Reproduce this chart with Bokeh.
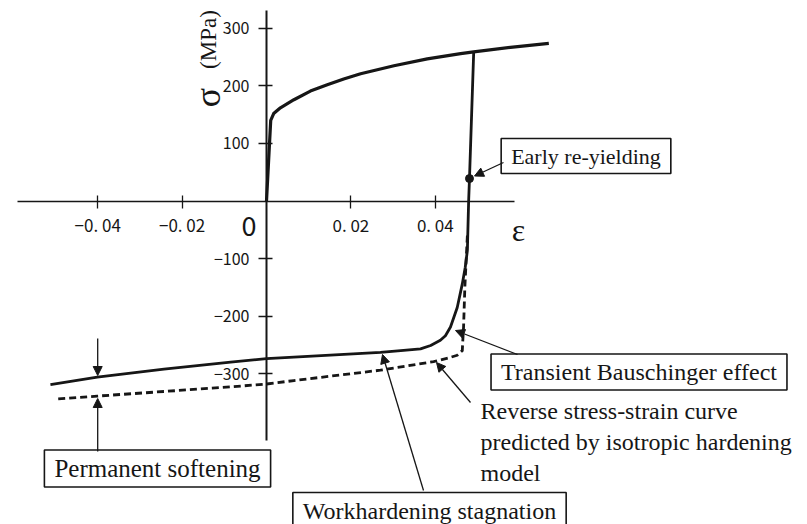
import math
from bokeh.plotting import figure
from bokeh.models import Range1d, FixedTicker, Label, Arrow, NormalHead
from bokeh.embed import file_html
from bokeh.resources import INLINE

# ---------------- data ----------------
forward_strain = [0.0, 0.0010, 0.0017, 0.0033, 0.0065, 0.0104, 0.0144, 0.0183,
                  0.0223, 0.0302, 0.0381, 0.0460, 0.0491, 0.0578, 0.0669]
forward_stress = [0, 140, 152, 162, 176, 191, 202, 212, 221, 235, 247, 256, 259, 267, 274]

reverse_strain = [0.0491, 0.0481, 0.0479, 0.0476, 0.0471, 0.0464, 0.0452, 0.0444,
                  0.0436, 0.0424, 0.0412, 0.0389, 0.0365, 0.0318, 0.0270, 0.0,
                  -0.0085, -0.0243, -0.0401, -0.0512]
reverse_stress = [259, 39, 0, -86, -115, -144, -185, -202, -219, -234, -242, -251,
                  -257, -260, -263, -274, -280, -292, -306, -319]

isotropic_strain = [0.0476, 0.0470, 0.0467, 0.0465, 0.0464, 0.0452, 0.0430, 0.0396,
                    0.0270, 0.0065, 0.0, -0.0085, -0.0243, -0.0401, -0.0496]
isotropic_stress = [-60, -150, -219, -245, -260, -268, -273, -279, -294, -312, -318,
                    -323, -331, -339, -344]

reyield_strain = [0.0481]
reyield_stress = [39]

softening_strain = -0.04

x_ticks = [-0.04, -0.02, 0.02, 0.04]
x_tick_labels = ["\u22120. 04", "\u22120. 02", "0. 02", "0. 04"]
y_ticks = [-300, -200, -100, 100, 200, 300]
y_tick_labels = ["\u2212300", "\u2212200", "\u2212100", "100", "200", "300"]

# ---------------- layout ----------------
W, H = 807, 524
X0, XS = 266.0, 4220.0     # pixel of strain 0, pixels per unit strain
Y0, YS = 200.5, 0.5755     # pixel of stress 0, pixels per MPa


def px_x(ix):
    return (ix - X0) / XS


def px_y(iy):
    return (Y0 - iy) / YS


INK = "#161616"

p = figure(width=W, height=H,
           x_range=Range1d(px_x(0), px_x(W)),
           y_range=Range1d(px_y(H), px_y(0)),
           output_backend="svg", toolbar_location=None,
           min_border=0, outline_line_color=None,
           background_fill_color="white", border_fill_color="white")
p.grid.visible = False

xa = p.xaxis[0]
xa.fixed_location = 0
xa.ticker = FixedTicker(ticks=x_ticks)
xa.major_label_overrides = dict(zip(x_ticks, x_tick_labels))
xa.bounds = (px_x(17), px_x(514))
xa.minor_tick_line_color = None
xa.major_tick_in = 6
xa.major_tick_out = 7
xa.axis_line_width = 1.3
xa.axis_line_color = INK
xa.major_tick_line_width = 1.3
xa.major_tick_line_color = INK
xa.major_label_text_font = "Noto Sans CJK JP"
xa.major_label_text_font_size = "17px"
xa.major_label_text_color = INK
xa.major_label_standoff = 4

ya = p.yaxis[0]
ya.fixed_location = 0
ya.ticker = FixedTicker(ticks=y_ticks)
ya.major_label_overrides = dict(zip(y_ticks, y_tick_labels))
ya.bounds = (px_y(440), px_y(10))
ya.minor_tick_line_color = None
ya.major_tick_in = 6
ya.major_tick_out = 8
ya.axis_line_width = 2
ya.axis_line_color = INK
ya.major_tick_line_width = 1.4
ya.major_tick_line_color = INK
ya.major_label_text_font = "Noto Sans CJK JP"
ya.major_label_text_font_size = "16px"
ya.major_label_text_color = INK
ya.major_label_standoff = 9

# ---------------- curves ----------------
p.line(forward_strain, forward_stress, line_width=3.2, line_color=INK, line_join="round")
p.line(reverse_strain, reverse_stress, line_width=2.8, line_color=INK, line_join="round")
p.line(isotropic_strain, isotropic_stress, line_width=2.8, line_color=INK,
       line_dash="7 4", line_join="round")
p.scatter(reyield_strain, reyield_stress, size=8, color=INK)

# ---------------- axis titles ----------------
serif = "Liberation Serif"
p.add_layout(Label(x=px_x(207), y=px_y(97), text="\u03c3", angle=math.pi / 2,
                   anchor="center", text_font=serif, text_font_size="36px",
                   text_color=INK))
p.add_layout(Label(x=px_x(208), y=px_y(39), text="(MPa)", angle=math.pi / 2,
                   anchor="center", text_font=serif, text_font_size="23px",
                   text_color=INK))
p.add_layout(Label(x=px_x(518), y=px_y(229), text="\u03b5", anchor="center",
                   text_font=serif, text_font_size="32px", text_color=INK))
p.add_layout(Label(x=px_x(248.5), y=px_y(225), text="0", anchor="center",
                   text_font="Noto Sans CJK JP", text_font_size="27px",
                   text_color=INK))


# ---------------- callouts ----------------
def box_label(cx, cy, text, size="24px"):
    p.add_layout(Label(x=px_x(cx), y=px_y(cy), text=text, anchor="center",
                       text_font=serif, text_font_size=size, text_color=INK,
                       padding=(10, 5), border_line_color=INK,
                       border_line_width=1.6, background_fill_color="white"))


def arrow(x1, y1, x2, y2):
    p.add_layout(Arrow(x_start=x1, y_start=y1, x_end=x2, y_end=y2,
                       line_color=INK, line_width=1.3,
                       end=NormalHead(size=9, fill_color=INK, line_color=INK,
                                      line_width=1)))


box_label(585.5, 155.5, "Early re-yielding", "22px")
arrow(px_x(503), px_y(162), px_x(474), px_y(175.5))

box_label(638.5, 371.5, "Transient Bauschinger effect")
arrow(px_x(517), px_y(354), px_x(455), px_y(330))

p.add_layout(Label(x=px_x(480), y=px_y(397), anchor="top_left",
                   text="Reverse stress-strain curve\npredicted by isotropic hardening\nmodel",
                   text_font=serif, text_font_size="24px", text_color=INK,
                   text_line_height=1.2))
arrow(px_x(470), px_y(402), px_x(436), px_y(362))

box_label(429, 510, "Workhardening stagnation")
arrow(px_x(423), px_y(490), px_x(382), px_y(354))

box_label(157, 468, "Permanent softening", "25px")
arrow(softening_strain, px_y(338), softening_strain, px_y(375))
arrow(softening_strain, px_y(451), softening_strain, px_y(398))

open("out.html", "w").write(file_html(p, INLINE))
